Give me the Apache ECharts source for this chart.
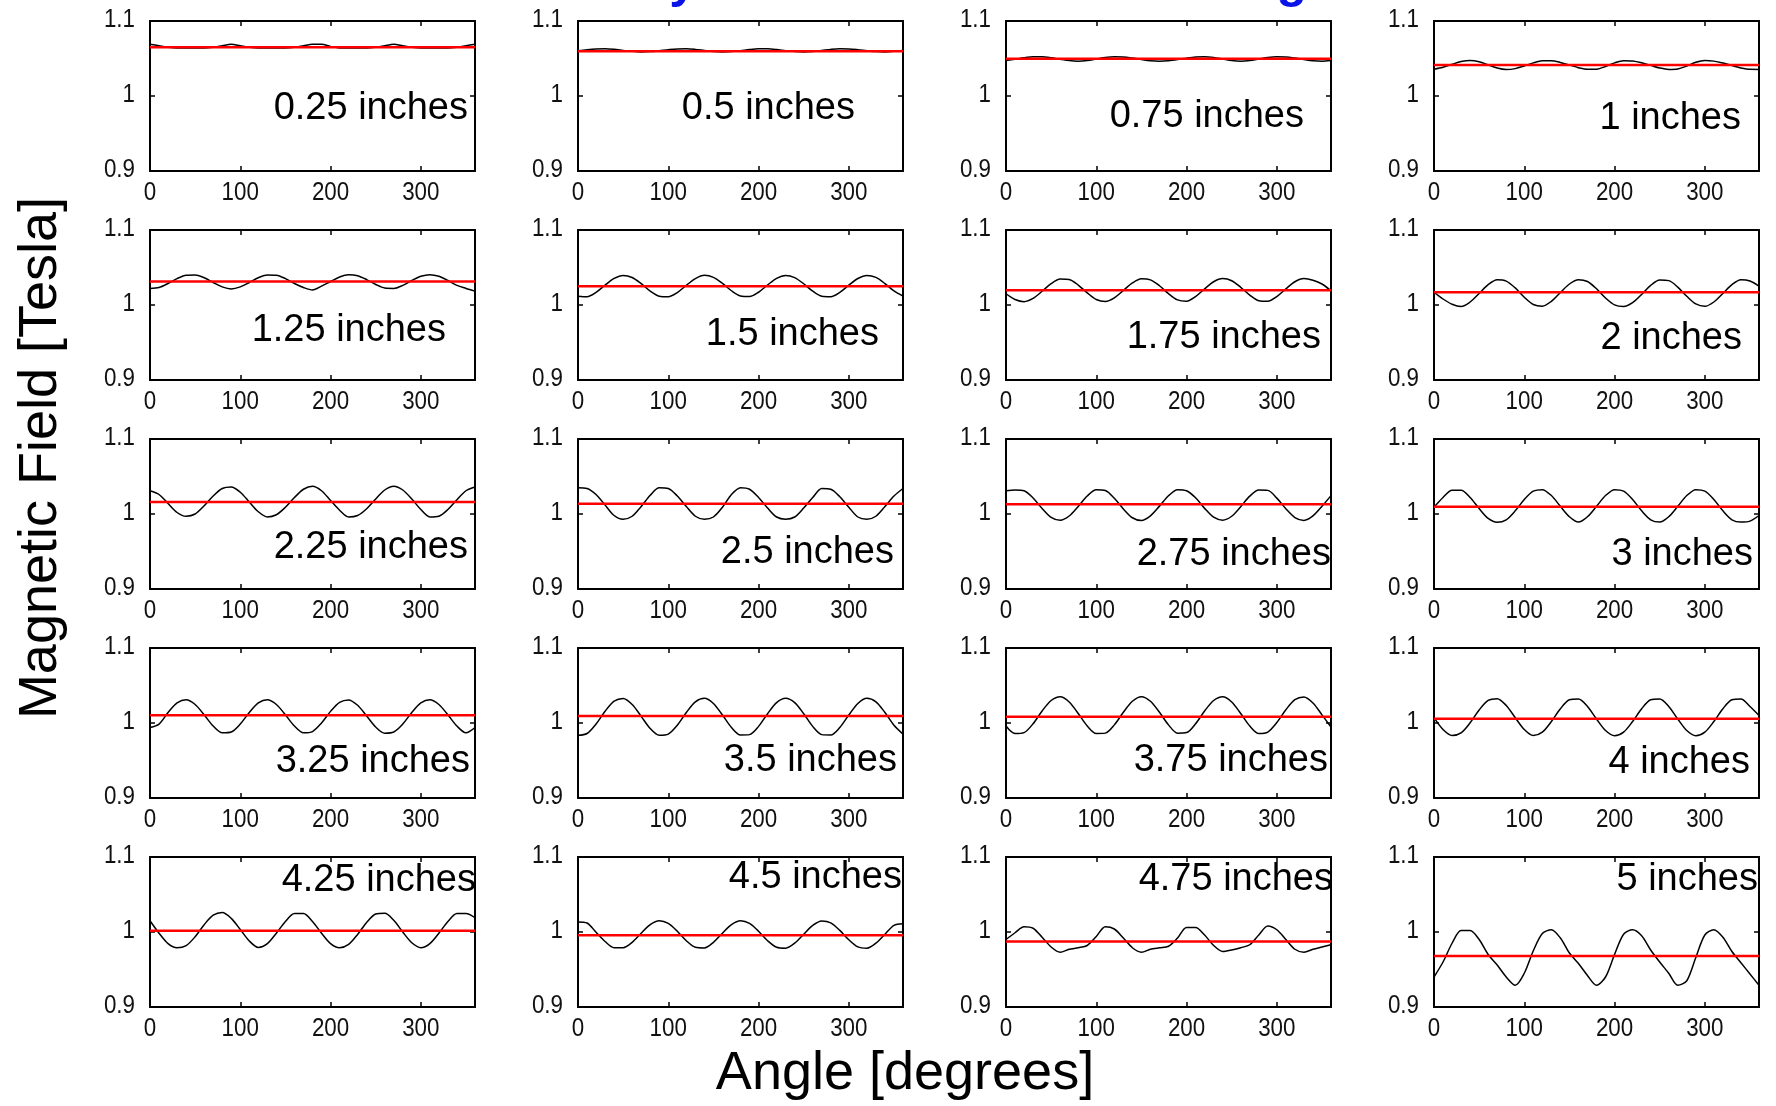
<!DOCTYPE html>
<html>
<head>
<meta charset="utf-8">
<title>Magnetic field vs angle</title>
<script src="https://cdn.jsdelivr.net/npm/echarts@6/dist/echarts.min.js"></script>
<style>
  html, body { margin: 0; padding: 0; background: #fff; }
  #chart { width: 1776px; height: 1106px; }
</style>
</head>
<body>
<div id="chart"></div>
<script>
// ---- data ---------------------------------------------------------------
// Probe angle in degrees (one reading every 10 degrees)
const angles = [0,10,20,30,40,50,60,70,80,90,100,110,120,130,140,150,160,170,180,
                190,200,210,220,230,240,250,260,270,280,290,300,310,320,330,340,350,360];

const xTicks = [0, 100, 200, 300];
const yTicks = [0.9, 1, 1.1];
const angleMax = 360;

const distanceLabels = ['0.25 inches','0.5 inches','0.75 inches','1 inches',
                        '1.25 inches','1.5 inches','1.75 inches','2 inches',
                        '2.25 inches','2.5 inches','2.75 inches','3 inches',
                        '3.25 inches','3.5 inches','3.75 inches','4 inches',
                        '4.25 inches','4.5 inches','4.75 inches','5 inches'];

// Mean field at each distance [T]
const meanField = [1.065, 1.0598, 1.0496, 1.0413,
                   1.0315, 1.025, 1.0196, 1.017,
                   1.016, 1.0136, 1.013, 1.0098,
                   1.0103, 1.0095, 1.0085, 1.0058,
                   1.0016, 0.9957, 0.9873, 0.968];

// Measured field [T] around the circle at each distance
const field025 = [1.069,1.067,1.065,1.064,1.064,1.064,1.064,1.065,1.067,1.069,1.067,1.065,1.064,1.064,1.064,1.064,1.065,1.067,1.069,
                  1.069,1.066,1.064,1.064,1.064,1.064,1.065,1.067,1.069,1.067,1.065,1.064,1.064,1.064,1.064,1.065,1.067,1.069];
const field050 = [1.0602,1.0617,1.0628,1.0630,1.0622,1.0608,1.0595,1.0588,1.0592,1.0604,1.0618,1.0628,1.0629,1.0621,1.0607,1.0594,1.0588,1.0593,1.0605,
                  1.0620,1.0629,1.0629,1.0620,1.0605,1.0593,1.0588,1.0594,1.0607,1.0621,1.0629,1.0628,1.0618,1.0604,1.0592,1.0588,1.0595,1.0608];
const field075 = [1.0472,1.0490,1.0510,1.0523,1.0523,1.0510,1.0490,1.0472,1.0465,1.0473,1.0493,1.0514,1.0524,1.0521,1.0506,1.0487,1.0471,1.0465,1.0471,
                  1.0486,1.0505,1.0520,1.0525,1.0515,1.0494,1.0473,1.0465,1.0473,1.0493,1.0514,1.0524,1.0521,1.0506,1.0487,1.0471,1.0465,1.0472];
const field100 = [1.0357,1.0383,1.0423,1.0459,1.0473,1.0456,1.0415,1.0373,1.0353,1.0365,1.0401,1.0442,1.0469,1.0470,1.0448,1.0413,1.0378,1.0356,1.0358,
                  1.0393,1.0442,1.0471,1.0467,1.0443,1.0408,1.0374,1.0355,1.0361,1.0400,1.0449,1.0473,1.0465,1.0440,1.0406,1.0374,1.0356,1.0355];
const field125 = [1.0220,1.0233,1.0287,1.0352,1.0397,1.0401,1.0363,1.0300,1.0242,1.0215,1.0242,1.0300,1.0363,1.0401,1.0397,1.0352,1.0287,1.0233,1.0200,
                  1.0251,1.0313,1.0374,1.0404,1.0391,1.0339,1.0274,1.0226,1.0221,1.0262,1.0327,1.0383,1.0405,1.0383,1.0327,1.0262,1.0221,1.0185];
const field150 = [1.0118,1.0111,1.0169,1.0265,1.0354,1.0395,1.0367,1.0285,1.0186,1.0118,1.0110,1.0166,1.0262,1.0352,1.0396,1.0369,1.0288,1.0190,1.0120,
                  1.0112,1.0170,1.0267,1.0356,1.0394,1.0365,1.0283,1.0184,1.0117,1.0111,1.0168,1.0264,1.0353,1.0395,1.0368,1.0286,1.0187,1.0118];
const field175 = [1.0150,1.0074,1.0045,1.0088,1.0183,1.0285,1.0347,1.0340,1.0266,1.0162,1.0074,1.0047,1.0096,1.0194,1.0294,1.0350,1.0335,1.0257,1.0151,
                  1.0068,1.0051,1.0113,1.0215,1.0310,1.0352,1.0324,1.0236,1.0132,1.0058,1.0051,1.0113,1.0215,1.0310,1.0352,1.0330,1.0280,1.0190];
const field200 = [1.0170,1.0080,1.0010,0.9980,1.0040,1.0154,1.0271,1.0336,1.0319,1.0228,1.0104,1.0007,0.9984,1.0049,1.0166,1.0280,1.0338,1.0313,1.0216,
                  1.0093,1.0001,0.9980,1.0031,1.0141,1.0261,1.0333,1.0325,1.0239,1.0116,1.0014,0.9982,1.0040,1.0154,1.0271,1.0336,1.0319,1.0250];
const field225 = [1.031,1.026,1.014,1.002,0.997,1.000,1.011,1.024,1.034,1.036,1.029,1.016,1.003,0.996,0.999,1.009,1.022,1.033,1.037,
                  1.031,1.018,1.005,0.996,0.998,1.007,1.020,1.032,1.037,1.032,1.020,1.006,0.996,0.997,1.006,1.019,1.031,1.036];
const field250 = [1.035,1.034,1.026,1.012,0.998,0.993,0.997,1.010,1.025,1.035,1.034,1.024,1.010,0.997,0.993,0.996,1.009,1.026,1.035,
                  1.033,1.022,1.008,0.996,0.993,0.996,1.008,1.022,1.034,1.033,1.023,1.009,0.996,0.993,0.997,1.010,1.024,1.034];
const field275 = [1.0310,1.0320,1.0310,1.0214,1.0073,0.9955,0.9916,0.9973,1.0101,1.0240,1.0323,1.0313,1.0210,1.0068,0.9950,0.9914,0.9976,1.0105,1.0243,
                  1.0325,1.0310,1.0216,1.0075,0.9957,0.9918,0.9970,1.0098,1.0238,1.0321,1.0315,1.0212,1.0070,0.9953,0.9915,0.9975,1.0103,1.0245];
const field300 = [1.0090,1.0220,1.0317,1.0317,1.0220,1.0072,0.9941,0.9890,0.9923,1.0042,1.0193,1.0304,1.0325,1.0246,1.0102,0.9963,0.9892,0.9963,1.0102,
                  1.0246,1.0325,1.0304,1.0193,1.0042,0.9923,0.9892,0.9963,1.0102,1.0246,1.0325,1.0304,1.0193,1.0042,0.9923,0.9892,0.9905,0.9980];
const field325 = [0.9940,0.9986,1.0140,1.0267,1.0310,1.0247,1.0109,0.9959,0.9869,0.9880,0.9986,1.0140,1.0267,1.0310,1.0247,1.0109,0.9959,0.9869,0.9886,
                  1.0001,1.0155,1.0276,1.0308,1.0236,1.0093,0.9946,0.9865,0.9880,0.9986,1.0140,1.0267,1.0310,1.0247,1.0109,0.9959,0.9869,0.9940];
const field350 = [0.9836,0.9860,0.9986,1.0157,1.0292,1.0328,1.0247,1.0089,0.9926,0.9836,0.9852,0.9970,1.0140,1.0282,1.0330,1.0260,1.0106,0.9940,0.9840,
                  0.9845,0.9955,1.0124,1.0272,1.0330,1.0272,1.0124,0.9955,0.9845,0.9840,0.9940,1.0106,1.0260,1.0330,1.0282,1.0140,0.9970,0.9852];
const field375 = [0.9960,0.9860,0.9872,0.9990,1.0160,1.0300,1.0350,1.0280,1.0126,0.9960,0.9860,0.9865,0.9975,1.0143,1.0290,1.0350,1.0290,1.0143,0.9975,
                  0.9865,0.9872,0.9990,1.0160,1.0300,1.0350,1.0280,1.0126,0.9960,0.9860,0.9879,1.0006,1.0177,1.0312,1.0348,1.0267,1.0109,0.9946];
const field400 = [1.0071,0.9913,0.9833,0.9868,1.0003,1.0174,1.0301,1.0325,1.0234,1.0071,0.9913,0.9833,0.9878,1.0020,1.0190,1.0309,1.0320,1.0220,1.0054,
                  0.9900,0.9830,0.9878,1.0020,1.0190,1.0309,1.0320,1.0220,1.0054,0.9900,0.9830,0.9878,1.0020,1.0190,1.0309,1.0320,1.0220,1.0100];
const field425 = [1.0150,0.9984,0.9845,0.9790,0.9818,0.9937,1.0098,1.0224,1.0260,1.0182,1.0033,0.9880,0.9795,0.9845,0.9984,1.0140,1.0246,1.0246,1.0140,
                  0.9984,0.9845,0.9790,0.9835,0.9968,1.0128,1.0240,1.0251,1.0156,1.0000,0.9856,0.9790,0.9845,0.9984,1.0140,1.0246,1.0246,1.0190];
const field450 = [1.0135,1.0120,0.9997,0.9873,0.9791,0.9791,0.9862,0.9984,1.0098,1.0150,1.0115,1.0010,0.9884,0.9796,0.9787,0.9862,0.9984,1.0098,1.0150,
                  1.0115,1.0010,0.9884,0.9796,0.9784,0.9851,0.9971,1.0089,1.0148,1.0122,1.0022,0.9896,0.9802,0.9784,0.9851,0.9971,1.0089,1.0110];
const field475 = [0.990,0.999,1.007,1.005,0.993,0.980,0.973,0.977,0.979,0.982,0.994,1.007,1.004,0.992,0.979,0.973,0.977,0.979,0.981,
                  0.992,1.006,1.006,0.996,0.982,0.974,0.976,0.979,0.983,0.996,1.008,1.003,0.990,0.977,0.973,0.977,0.980,0.983];
const field500 = [0.940,0.960,0.985,1.002,1.002,0.990,0.970,0.956,0.940,0.929,0.945,0.975,0.998,1.003,0.992,0.972,0.958,0.942,0.929,
                  0.940,0.970,0.997,1.003,0.995,0.976,0.960,0.945,0.929,0.935,0.966,0.996,1.003,0.993,0.974,0.959,0.944,0.929];

const fieldCurves = [field025, field050, field075, field100,
                     field125, field150, field175, field200,
                     field225, field250, field275, field300,
                     field325, field350, field375, field400,
                     field425, field450, field475, field500];

// ---- layout -------------------------------------------------------------
const COLS = 4;
const panel = { left: 150, top: 21, stepX: 428, stepY: 209, width: 325, height: 150 };
// distance label: [inset from panel right edge, centre height below panel top]
const labelPlace = [[7,88],[48,88],[27,96],[18,98],
                    [29,101],[24,105],[10,108],[17,109],
                    [7,109],[9,114],[0,116],[6,116],
                    [5,114],[6,113],[3,113],[9,115],
                    [-1,24],[1,21],[-2,23],[1,23]];

const textFont = "'Liberation Sans',Arial,Helvetica,sans-serif";
const tickStyle = { fill: '#111', fontFamily: textFont, fontSize: 26 };
const tickSqueeze = 0.86;   // tick numbers are set condensed

const grids = [], xAxes = [], yAxes = [], series = [], graphics = [];

fieldCurves.forEach((curve, i) => {
  const col = i % COLS, row = Math.floor(i / COLS);
  const left = panel.left + col * panel.stepX;
  const top = panel.top + row * panel.stepY;
  grids.push({ left, top, width: panel.width, height: panel.height, containLabel: false });

  const frame = { show: true, onZero: false, lineStyle: { color: '#000', width: 2 } };
  const ticks = { show: true, inside: true, length: 5, lineStyle: { color: '#000', width: 1.5 } };
  const xBase = { type: 'value', gridIndex: i, min: xTicks[0], max: angleMax,
                  interval: xTicks[1] - xTicks[0], axisLine: frame, axisTick: ticks,
                  splitLine: { show: false }, axisLabel: { show: false } };
  const yBase = { type: 'value', gridIndex: i, min: yTicks[0], max: yTicks[yTicks.length - 1],
                  interval: +(yTicks[1] - yTicks[0]).toFixed(2), axisLine: frame, axisTick: ticks,
                  splitLine: { show: false }, axisLabel: { show: false } };

  xAxes.push(Object.assign({ position: 'bottom' }, xBase));
  xAxes.push(Object.assign({ position: 'top' }, xBase));
  yAxes.push(Object.assign({ position: 'left' }, yBase));
  yAxes.push(Object.assign({ position: 'right' }, yBase));

  // measured field
  series.push({
    type: 'line', xAxisIndex: 2 * i, yAxisIndex: 2 * i,
    data: angles.map((a, k) => [a, curve[k]]),
    showSymbol: false, silent: true, z: 3, smooth: 0.3,
    lineStyle: { color: '#000', width: 1.5 }
  });
  // mean field
  series.push({
    type: 'line', xAxisIndex: 2 * i, yAxisIndex: 2 * i,
    data: [[angles[0], meanField[i]], [angles[angles.length - 1], meanField[i]]],
    showSymbol: false, silent: true, z: 4,
    lineStyle: { color: '#ff0000', width: 2.5 }
  });

  // distance label inside the panel
  const [inset, cy] = labelPlace[i];
  graphics.push({
    type: 'text', z: 10, silent: true,
    x: left + panel.width - inset, y: top + cy,
    style: { text: distanceLabels[i], fill: '#000', align: 'right', verticalAlign: 'middle',
             fontFamily: textFont, fontSize: 38 }
  });
});

// axis titles
graphics.push({
  type: 'text', silent: true, x: 41, y: 458, rotation: Math.PI / 2,
  style: { text: 'Magnetic Field [Tesla]', fill: '#000', align: 'center', verticalAlign: 'middle',
           fontFamily: textFont, fontSize: 54 }
});
graphics.push({
  type: 'text', silent: true, x: 905, y: 1074,
  style: { text: 'Angle [degrees]', fill: '#000', align: 'center', verticalAlign: 'middle',
           fontFamily: textFont, fontSize: 54 }
});
// page heading, sitting mostly above the top edge
graphics.push({
  type: 'text', silent: true, x: 697, y: -17,
  style: { text: 'Field Uniformity', fill: '#0a14e6', align: 'right', verticalAlign: 'middle',
           fontFamily: textFont, fontWeight: 'bold', fontSize: 50 }
});
graphics.push({
  type: 'text', silent: true, x: 1307, y: -17,
  style: { text: 'vs. Distance from the Ring', fill: '#0a14e6', align: 'right', verticalAlign: 'middle',
           fontFamily: textFont, fontWeight: 'bold', fontSize: 50 }
});

const chart = echarts.init(document.getElementById('chart'), null, { renderer: 'canvas' });
chart.setOption({
  backgroundColor: '#fff',
  animation: false,
  grid: grids,
  xAxis: xAxes,
  yAxis: yAxes,
  series: series
});

// tick numbers, placed from each panel's own axes
grids.forEach((g, i) => {
  const bottom = g.top + g.height;
  xTicks.forEach(v => {
    const px = chart.convertToPixel({ xAxisIndex: 2 * i }, v);
    graphics.push({
      type: 'text', silent: true, x: px, y: bottom + 22, scaleX: tickSqueeze,
      style: Object.assign({ text: String(v), align: 'center', verticalAlign: 'middle' }, tickStyle)
    });
  });
  yTicks.forEach(v => {
    const py = chart.convertToPixel({ yAxisIndex: 2 * i }, v);
    graphics.push({
      type: 'text', silent: true, x: g.left - 15, y: py - 1, scaleX: tickSqueeze,
      style: Object.assign({ text: String(v), align: 'right', verticalAlign: 'middle' }, tickStyle)
    });
  });
});

chart.setOption({ graphic: { elements: graphics } });
</script>
</body>
</html>
